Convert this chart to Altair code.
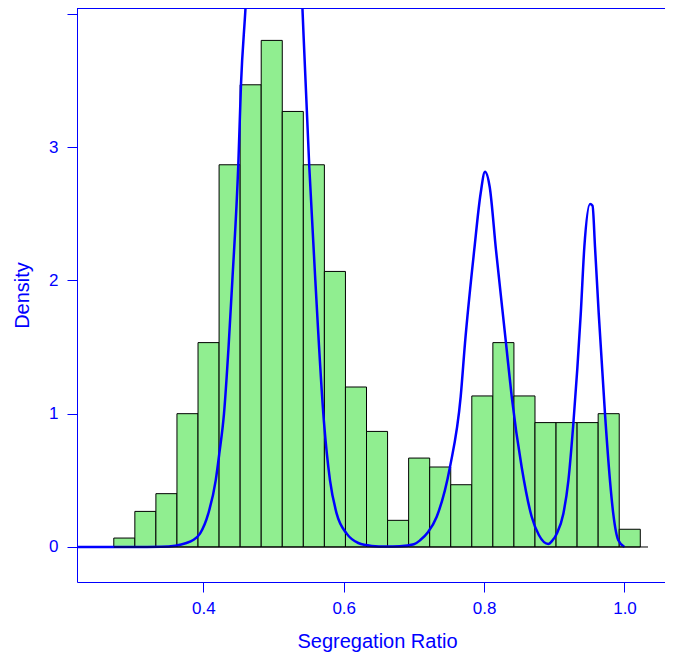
import altair as alt
import pandas as pd

# Histogram (density scale), bin width 0.03
bin_left = [0.2725, 0.3025, 0.3325, 0.3625, 0.3925, 0.4225, 0.4525, 0.4825, 0.5125,
            0.5425, 0.5725, 0.6025, 0.6325, 0.6625, 0.6925, 0.7225, 0.7525, 0.7825,
            0.8125, 0.8425, 0.8725, 0.9025, 0.9325, 0.9625, 0.9925]
bin_width = 0.03
bin_density = [0.067, 0.267, 0.400, 1.000, 1.533, 2.867, 3.467, 3.800, 3.267, 2.867,
               2.067, 1.200, 0.867, 0.200, 0.667, 0.600, 0.467, 1.133, 1.533, 1.133,
               0.933, 0.933, 0.933, 1.000, 0.133]

# Density curve (peak near 0.5 is clipped at the top)
curve_x = [0.220, 0.300, 0.340, 0.360, 0.376, 0.385, 0.3953, 0.4071, 0.4177, 0.4228,
           0.4295, 0.4360, 0.4414, 0.4499, 0.4537, 0.4604, 0.470, 0.480, 0.490, 0.500,
           0.510, 0.520, 0.530, 0.541, 0.551, 0.5596, 0.5717, 0.5805, 0.590, 0.6043,
           0.6208, 0.640, 0.660, 0.680, 0.700, 0.7088, 0.720, 0.7325, 0.7514, 0.7667,
           0.7728, 0.7860, 0.795, 0.8013, 0.808, 0.8169, 0.8312, 0.8393, 0.8535, 0.8678,
           0.878, 0.8915, 0.8975, 0.9035, 0.9129, 0.9201, 0.9272, 0.9377, 0.9428, 0.9509,
           0.9545, 0.958, 0.9633, 0.9722, 0.9793, 0.9840, 0.9912, 1.000]
curve_y = [0.000, 0.000, 0.002, 0.010, 0.030, 0.050, 0.100, 0.250, 0.500, 0.700,
           1.000, 1.500, 2.000, 2.870, 3.470, 4.070, 5.200, 6.300, 7.100, 7.500,
           7.200, 6.500, 5.500, 4.070, 2.850, 2.000, 0.950, 0.500, 0.250, 0.100,
           0.030, 0.008, 0.003, 0.005, 0.020, 0.050, 0.110, 0.227, 0.600, 1.130,
           1.530, 2.230, 2.650, 2.815, 2.700, 2.230, 1.530, 1.130, 0.600, 0.227,
           0.090, 0.0225, 0.050, 0.100, 0.250, 0.500, 0.930, 1.750, 2.250, 2.573,
           2.560, 2.250, 1.750, 1.000, 0.500, 0.250, 0.050, 0.000]

x_ticks = [0.4, 0.6, 0.8, 1.0]
y_ticks = [0, 1, 2, 3, 4]

hist_df = pd.DataFrame({
    "left": bin_left,
    "right": [b + bin_width for b in bin_left],
    "density": bin_density,
})
curve_df = pd.DataFrame({"x": curve_x, "y": curve_y})
base_df = pd.DataFrame({"x": [0.2725], "x2": [1.0335], "y": [0.0]})

BLUE = "#0000FF"
FONT = "Liberation Sans"
x_dom = [0.2201, 1.0577]
y_dom = [-0.2626, 4.043]

xscale = alt.Scale(domain=x_dom, nice=False, zero=False)
yscale = alt.Scale(domain=y_dom, nice=False, zero=False)

x_axis = alt.Axis(
    values=x_ticks, format=".1f", title="Segregation Ratio", orient="bottom",
    grid=False, domainColor=BLUE, tickColor=BLUE, labelColor=BLUE, titleColor=BLUE,
    tickSize=10, labelFontSize=17, titleFontSize=20, labelFont=FONT, titleFont=FONT,
    titleFontWeight="normal", labelPadding=8, titlePadding=15, titleX=300,
)
y_axis = alt.Axis(
    values=y_ticks, title="Density", grid=False, domainColor=BLUE, tickColor=BLUE,
    labelColor=BLUE, titleColor=BLUE, tickSize=10, labelFontSize=17, titleFontSize=20,
    labelFont=FONT, titleFont=FONT, titleFontWeight="normal", labelPadding=9,
    titlePadding=16, labelExpr="datum.value == 4 ? '' : datum.label",
)

bars = alt.Chart(hist_df).mark_rect(
    fill="#90EE90", stroke="black", strokeWidth=1, clip=True
).encode(
    x=alt.X("left:Q", scale=xscale, axis=x_axis),
    x2="right:Q",
    y=alt.Y("density:Q", scale=yscale, axis=y_axis),
    y2=alt.datum(0),
)

curve = alt.Chart(curve_df).mark_line(
    color=BLUE, strokeWidth=2.5, clip=True, interpolate="monotone"
).encode(
    x=alt.X("x:Q", scale=xscale, axis=x_axis),
    y=alt.Y("y:Q", scale=yscale, axis=y_axis),
)

baseline = alt.Chart(base_df).mark_rule(color="black", strokeWidth=1).encode(
    x=alt.X("x:Q", scale=xscale, axis=x_axis),
    x2="x2:Q",
    y=alt.Y("y:Q", scale=yscale, axis=y_axis),
)

top_line = alt.Chart(base_df).mark_rule(color=BLUE, strokeWidth=1).encode(
    x=alt.value(0), x2=alt.value(588), y=alt.value(0.5),
)

chart = alt.layer(bars, curve, baseline, top_line).properties(
    width=588, height=574,
    autosize=alt.AutoSizeParams(type="none"),
    padding={"left": 69, "top": 0, "right": 0, "bottom": 71},
    background="white",
).configure_view(stroke=None)

chart.save("out.html", embed_options={"renderer": "svg", "actions": False})
